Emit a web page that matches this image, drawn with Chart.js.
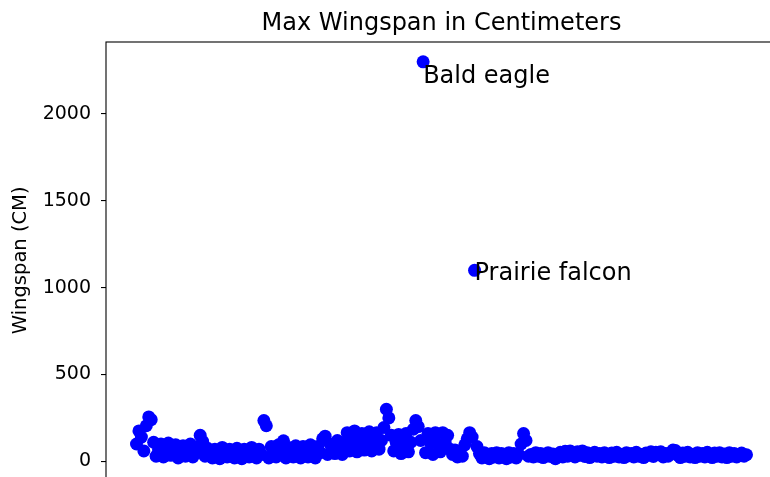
<!DOCTYPE html>
<html>
<head>
<meta charset="utf-8">
<script src="https://cdn.jsdelivr.net/npm/chart.js@4.4.1/dist/chart.umd.min.js"></script>
<style>
  html, body { margin: 0; padding: 0; background: #fff; overflow: hidden; }
  #wingChart { display: block; }
</style>
</head>
<body>
<canvas id="wingChart" width="790" height="500"></canvas>
<script>
// Max wingspan (cm) per bird, in dataset order (index = x position)
const wingspan = [
  100, 175, 140, 60, 205, 256, 240, 110, 30, 65,
  100, 25, 60, 105, 35, 70, 95, 20, 55, 90,
  30, 60, 100, 25, 65, 85, 150, 115, 30, 75,
  50, 20, 70, 45, 15, 80, 50, 25, 70, 40,
  20, 75, 45, 15, 70, 50, 25, 80, 45, 20,
  70, 40, 235, 205, 20, 85, 50, 25, 95, 55,
  118, 20, 80, 45, 25, 90, 50, 20, 85, 55,
  25, 95, 45, 20, 85, 50, 130, 145, 40, 100,
  70, 45, 120, 75, 40, 110, 165, 60, 110, 175,
  55, 115, 160, 65, 120, 170, 60, 110, 165, 70,
  120, 195, 300, 250, 150, 60, 110, 155, 45, 100,
  160, 55, 110, 185, 235, 200, 120, 2300, 50, 160,
  105, 40, 165, 100, 55, 165, 110, 150, 70, 40,
  65, 25, 50, 30, 95, 130, 165, 140, 1100, 85,
  45, 20, 50, 25, 15, 45, 25, 50, 20, 45,
  30, 15, 50, 25, 45, 20, 40, 100, 160, 120,
  30, 40, 25, 50, 30, 45, 22, 35, 50, 28,
  42, 15, 38, 52, 25, 58, 30, 60, 45, 25,
  55, 35, 60, 28, 50, 22, 40, 52, 30, 45,
  25, 50, 35, 22, 48, 30, 52, 25, 40, 22,
  50, 32, 45, 25, 52, 30, 40, 22, 48, 35,
  55, 28, 52, 40, 55, 25, 45, 30, 50, 65,
  62, 35, 22, 48, 30, 52, 25, 40, 22, 50,
  30, 45, 25, 52, 35, 22, 48, 30, 50, 25,
  42, 22, 50, 30, 45, 25, 40, 48, 30, 38
];

// Birds that get a text label
const labelNames = ["Bald eagle", "Prairie falcon"];
const labelIndex = [117, 138];

const yTicks = [0, 500, 1000, 1500, 2000];

document.addEventListener("DOMContentLoaded", function () {
  const FONT = "'DejaVu Sans', sans-serif";
  const n = wingspan.length;
  const points = wingspan.map((v, i) => ({ x: i, y: v }));

  // matplotlib-style 5% margins
  const xPad = (n - 1) * 0.05;
  const yMinData = Math.min(...wingspan);
  const yMaxData = Math.max(...wingspan);
  const yPad = (yMaxData - yMinData) * 0.05;

  // frame (spines), title and point annotations
  const decor = {
    id: "decor",
    afterDraw(chart) {
      const { ctx, chartArea: a, scales } = chart;
      ctx.save();
      ctx.strokeStyle = "#000";
      ctx.lineWidth = 1.1;
      ctx.strokeRect(a.left, a.top, a.right - a.left, a.bottom - a.top);

      ctx.fillStyle = "#000";
      ctx.font = "24px " + FONT;
      ctx.textAlign = "center";
      ctx.textBaseline = "alphabetic";
      ctx.fillText("Max Wingspan in Centimeters", (a.left + a.right) / 2, a.top - 12);

      ctx.textAlign = "left";
      const dy = [21, 10];
      labelNames.forEach((name, k) => {
        const i = labelIndex[k];
        const px = scales.x.getPixelForValue(i);
        const py = scales.y.getPixelForValue(wingspan[i]);
        ctx.fillText(name, px, py + dy[k]);
      });
      ctx.restore();
    },
  };

  const c = document.getElementById("wingChart").getContext("2d");
  window.wingChart = new Chart(c, {
    type: "scatter",
    data: {
      datasets: [
        {
          label: "Wingspan",
          data: points,
          backgroundColor: "#0000ff",
          borderColor: "#0000ff",
          borderWidth: 0,
          pointRadius: 6.5,
          pointHoverRadius: 6.5,
        },
      ],
    },
    options: {
      responsive: false,
      animation: false,
      devicePixelRatio: 1,
      layout: { padding: { left: 0, top: 42, right: 13, bottom: 19 } },
      plugins: { legend: { display: false }, tooltip: { enabled: false }, title: { display: false } },
      scales: {
        x: {
          type: "linear",
          display: false,
          min: -xPad,
          max: n - 1 + xPad,
        },
        y: {
          type: "linear",
          min: yMinData - yPad,
          max: yMaxData + yPad,
          afterFit(scale) { scale.width = 106; },
          afterBuildTicks(scale) { scale.ticks = yTicks.map((v) => ({ value: v })); },
          border: { display: false },
          grid: { drawOnChartArea: false, drawTicks: true, tickLength: 5, color: "#000", lineWidth: 1.1 },
          ticks: {
            color: "#000",
            padding: 10,
            font: { family: FONT, size: 19 },
            callback: (v) => String(v),
          },
          title: {
            display: true,
            text: "Wingspan (CM)",
            color: "#000",
            padding: { top: 9, bottom: 0 },
            font: { family: FONT, size: 19.5 },
          },
        },
      },
    },
    plugins: [decor],
  });
});
</script>
</body>
</html>
